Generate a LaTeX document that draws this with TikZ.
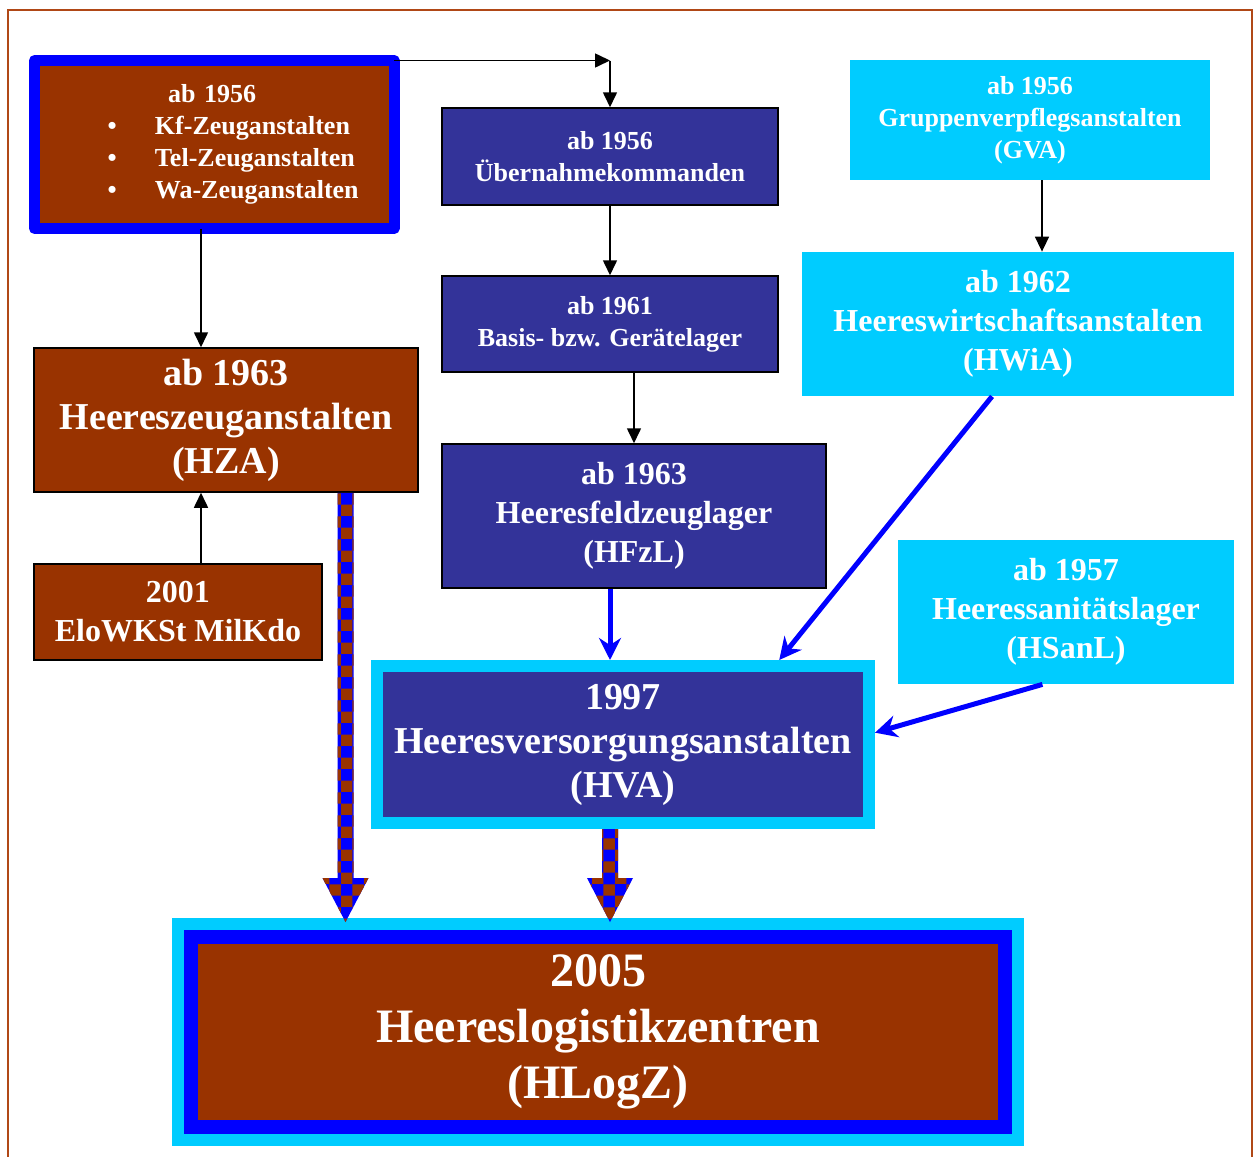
\documentclass[tikz,border=0pt]{standalone}
\usepackage{fontspec}
\setmainfont{Liberation Serif}
\usetikzlibrary{positioning, arrows.meta, calc, patterns}

\definecolor{hzbrown}{RGB}{153,51,0}
\definecolor{hznavy}{RGB}{51,51,153}
\definecolor{hzcyan}{RGB}{0,204,255}
\definecolor{hzblue}{RGB}{0,0,255}
\definecolor{hzframe}{RGB}{176,72,22}

\begin{document}
\begin{tikzpicture}[
    x=0.5pt, y=-0.5pt,
    brownbox/.style={draw=black, line width=0.75pt, fill=hzbrown, text=white, align=center, inner sep=0pt},
    navybox/.style={draw=black, line width=0.75pt, fill=hznavy, text=white, align=center, inner sep=0pt},
    cyanbox/.style={fill=hzcyan, text=white, align=center, inner sep=0pt},
    smalltext/.style={font=\fontsize{13}{16}\selectfont\bfseries},
    midtext/.style={font=\fontsize{16}{19.5}\selectfont\bfseries},
    bigtext/.style={font=\fontsize{19}{22}\selectfont\bfseries},
    hugetext/.style={font=\fontsize{24}{28}\selectfont\bfseries},
    thinarrow/.style={-{Triangle[length=7.5pt,width=7pt]}, line width=0.8pt},
    bluearrow/.style={-{Stealth[length=11pt,width=11pt]}, line width=2.5pt, draw=hzblue},
    checkarrow/.style={fill=hzblue, postaction={pattern=checkerboard, pattern color=hzbrown}}
]

\useasboundingbox (0,0) rectangle (1260,1157);

% Frame
\draw[hzframe, line width=1pt] (8,1157) -- (8,10) -- (1252,10) -- (1252,1157);

% Left column
\node[brownbox, draw=hzblue, line width=5.5pt, line join=round, outer sep=0pt,
      minimum width=179.75pt, minimum height=84pt, text width=179.75pt, align=left, smalltext]
      (zeug) at (214.25,144.5) {
    \hspace*{66.75pt}ab 1956\\
    \hspace*{36.5pt}\makebox[23.75pt][l]{\textbullet}Kf-Zeuganstalten\\
    \hspace*{36.5pt}\makebox[23.75pt][l]{\textbullet}Tel-Zeuganstalten\\
    \hspace*{36.5pt}\makebox[23.75pt][l]{\textbullet}Wa-Zeuganstalten
};
\node[brownbox, bigtext, minimum width=192pt, minimum height=72pt] (hza) at (226,420)
    {ab 1963\\Heereszeuganstalten\\(HZA)};
\node[brownbox, midtext, minimum width=144pt, minimum height=48pt] (elo) at (178,612)
    {2001\\EloWKSt MilKdo};

% Middle column
\node[navybox, smalltext, minimum width=168pt, minimum height=48.5pt] (uebernahme) at (610,156.5)
    {ab 1956\\Übernahmekommanden};
\node[navybox, smalltext, minimum width=168pt, minimum height=48pt] (basis) at (610,324)
    {ab 1961\\Basis- bzw. Gerätelager};
\node[navybox, midtext, minimum width=192pt, minimum height=72pt] (hfzl) at (634,516)
    {ab 1963\\Heeresfeldzeuglager\\(HFzL)};
\node[navybox, bigtext, draw=hzcyan, line width=6pt, minimum width=246pt, minimum height=78.5pt]
    (hva) at (623,744.5) {1997\\Heeresversorgungsanstalten\\(HVA)};

% Right column
\node[cyanbox, smalltext, minimum width=180pt, minimum height=60pt] (gva) at (1030,120)
    {ab 1956\\Gruppenverpflegsanstalten\\(GVA)};
\node[cyanbox, midtext, minimum width=216pt, minimum height=72pt] (hwia) at (1018,324)
    {ab 1962\\Heereswirtschaftsanstalten\\(HWiA)};
\node[cyanbox, midtext, minimum width=168pt, minimum height=72pt] (hsanl) at (1066,612)
    {ab 1957\\Heeressanitätslager\\(HSanL)};

% Bottom
\node[brownbox, hugetext, draw=hzblue, line width=7pt, preaction={draw=hzcyan, line width=19pt},
      minimum width=407pt, minimum height=95pt] (hlogz) at (598,1032)
    {2005\\Heereslogistikzentren\\(HLogZ)};

% Thin arrows
\coordinate (knick) at (uebernahme.north |- zeug.north east);
\draw[thinarrow] (zeug.north east) -- (knick);
\draw[thinarrow] (knick) -- (uebernahme.north);
\draw[thinarrow] (uebernahme.south) -- (basis.north);
\draw[thinarrow] (basis.south -| hfzl.north) -- (hfzl.north);
\coordinate (zx) at (201,0);
\draw[thinarrow] (zeug.south -| zx) -- (hza.north -| zx);
\draw[thinarrow] (elo.north -| zx) -- (hza.south -| zx);
\coordinate (gx) at (1042,0);
\draw[thinarrow] (gva.south -| gx) -- (hwia.north -| gx);

% Blue arrows
\coordinate (hx) at (610,0);
\draw[bluearrow] (hfzl.south -| hx) -- (hva.north -| hx);
\draw[bluearrow] ($(hwia.south west)!0.44!(hwia.south east)$) -- ($(hva.north west)!0.81!(hva.north east)$);
\draw[bluearrow] ($(hsanl.south west)!0.43!(hsanl.south east)$) -- ($(hva.north east)!0.43!(hva.south east)$);

% Checkered arrows
\coordinate (za) at ($(hza.south west)!0.81!(hza.south east)$);
\coordinate (zb) at ($(za |- hlogz.north)+(0,-8)$);
\path[checkarrow] ($(za)+(-8,0)$) -- ($(zb)+(-8,-44)$) -- ($(zb)+(-23,-44)$) -- (zb)
    -- ($(zb)+(23,-44)$) -- ($(zb)+(8,-44)$) -- ($(za)+(8,0)$) -- cycle;
\coordinate (va) at (hva.south -| hx);
\coordinate (vb) at ($(hx |- hlogz.north)+(0,-8)$);
\path[checkarrow] ($(va)+(-8,0)$) -- ($(vb)+(-8,-44)$) -- ($(vb)+(-23,-44)$) -- (vb)
    -- ($(vb)+(23,-44)$) -- ($(vb)+(8,-44)$) -- ($(va)+(8,0)$) -- cycle;

\end{tikzpicture}
\end{document}
